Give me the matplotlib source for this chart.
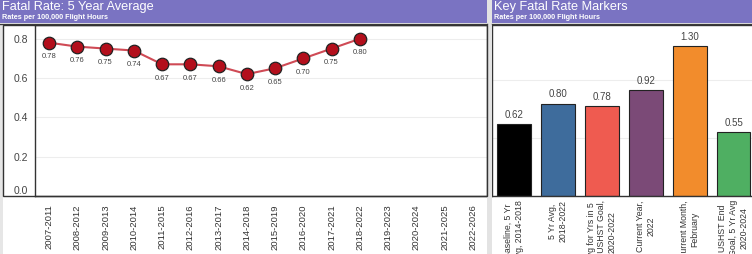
import matplotlib
matplotlib.use("Agg")
import matplotlib.pyplot as plt
from matplotlib.patches import Rectangle

# ---- data ----
periods = ["2007-2011", "2008-2012", "2009-2013", "2010-2014", "2011-2015",
           "2012-2016", "2013-2017", "2014-2018", "2015-2019", "2016-2020",
           "2017-2021", "2018-2022", "2019-2023", "2020-2024", "2021-2025",
           "2022-2026"]
fatal_5yr = [0.78, 0.76, 0.75, 0.74, 0.67, 0.67, 0.66, 0.62, 0.65, 0.70, 0.75, 0.80]

markers = ["Baseline, 5 Yr\nAvg, 2014-2018", "5 Yr Avg,\n2018-2022",
           "Avg for Yrs in 5\nYr USHST Goal,\n2020-2022", "Current Year,\n2022",
           "Current Month,\nFebruary", "USHST End\nGoal, 5 Yr Avg\n2020-2024"]
marker_vals = [0.62, 0.80, 0.78, 0.92, 1.30, 0.55]
marker_colors = ["#000000", "#3e6c9c", "#ef5b50", "#7b4a77", "#f28c2c", "#4faf62"]

left_yticks = [0.0, 0.2, 0.4, 0.6, 0.8]

W, H = 752, 254
HEADER = "#7a73c2"
plt.rcParams["font.family"] = ["Liberation Sans", "DejaVu Sans"]

fig = plt.figure(figsize=(W / 100, H / 100), dpi=100)
fig.patch.set_facecolor("white")


def box(x0, y0, x1, y1):
    # pixel box (top-left origin) -> figure fraction rect
    return [x0 / W, 1 - y1 / H, (x1 - x0) / W, (y1 - y0) / H]


def frect(x0, y0, x1, y1, **kw):
    fig.patches.append(Rectangle((x0 / W, 1 - y1 / H), (x1 - x0) / W, (y1 - y0) / H,
                                 transform=fig.transFigure, **kw))


# background strips
frect(0, 24, 3, 254, facecolor="#e6e6e6", edgecolor="none", zorder=0)
frect(487, 0, 492, 254, facecolor="#e3e3e3", edgecolor="none", zorder=0)

# headers
for (x0, x1, title) in [(0, 487, "Fatal Rate: 5 Year Average"), (492, 752, "Key Fatal Rate Markers")]:
    frect(x0, 0, x1, 23, facecolor=HEADER, edgecolor="none", zorder=1)
    fig.add_artist(plt.Line2D([x0 / W, x1 / W], [1 - 23.5 / H] * 2, color="#3a3a3a", lw=1))
    fig.text((x0 + 2) / W, 1 - 7 / H, title, color="white", fontsize=9.2, va="center", ha="left")
    fig.text((x0 + 2) / W, 1 - 17.5 / H, "Rates per 100,000 Flight Hours", color="white",
             fontsize=5.2, fontweight="bold", va="center", ha="left")

# ---- left: line chart ----
ax = fig.add_axes(box(35, 25, 487, 196))
x = list(range(len(fatal_5yr)))
ax.plot(x, fatal_5yr, color="#cf4a55", lw=1.5, zorder=2)
ax.plot(x, fatal_5yr, "o", ms=9, mfc="#b30f1c", mec="#222222", mew=0.9, zorder=3)
for xi, v in zip(x, fatal_5yr):
    ax.annotate(f"{v:.2f}", (xi, v), xytext=(0, -7.5), textcoords="offset points",
                ha="center", va="top", fontsize=5.5, color="#444444")
ax.set_xlim(-0.5, len(periods) - 0.5)
ax.set_ylim(0, 0.87)
ax.set_xticks(range(len(periods)))
ax.set_xticklabels(periods, rotation=90, fontsize=6.8, color="#333333", va="top")
ax.set_yticks(left_yticks)
ax.set_yticklabels([f"{t:.1f}" for t in left_yticks], fontsize=7.5, color="#444444")
ax.tick_params(length=0)
ax.tick_params(axis="x", pad=6)
ax.tick_params(axis="y", pad=5)
ax.yaxis.get_major_ticks()[0].label1.set_va("bottom")
ax.grid(axis="y", color="#ededed", lw=0.8)
ax.set_axisbelow(True)
for s in ax.spines.values():
    s.set_color("#333333")
    s.set_linewidth(1)
# outer frame including the y-axis area
frect(3, 25, 487, 196, facecolor="none", edgecolor="#333333", lw=1, zorder=5)

# ---- right: bar chart ----
ax2 = fig.add_axes(box(492, 25, 752, 196))
xb = list(range(len(marker_vals)))
ax2.bar(xb, marker_vals, width=0.77, color=marker_colors, edgecolor="#222222", lw=0.8, zorder=2)
for xi, v in zip(xb, marker_vals):
    ax2.annotate(f"{v:.2f}", (xi, v), xytext=(0, 3), textcoords="offset points",
                 ha="center", va="bottom", fontsize=7, color="#444444")
ax2.set_xlim(-0.5, 5.42)
ax2.set_ylim(0, 1.48)
ax2.set_yticks([0.5, 1.0])
ax2.set_yticklabels([])
ax2.set_xticks(xb)
ax2.set_xticklabels(markers, rotation=90, fontsize=6.3, color="#333333",
                    va="top", ha="center", multialignment="center", linespacing=1.25)
ax2.tick_params(length=0, pad=3)
ax2.grid(axis="y", color="#ededed", lw=0.8)
ax2.set_axisbelow(True)
for s in ax2.spines.values():
    s.set_color("#333333")
    s.set_linewidth(1)
ax2.spines["right"].set_visible(False)

fig.savefig("out.png", dpi=100)
